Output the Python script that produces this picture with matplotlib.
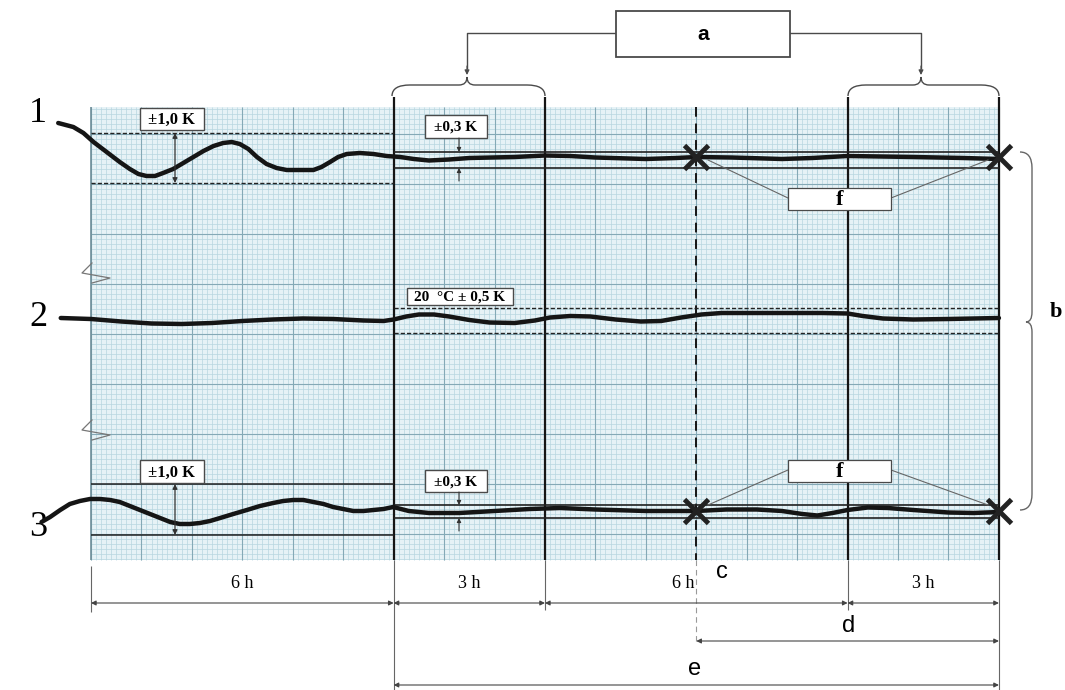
import matplotlib.pyplot as plt
import numpy as np
from matplotlib.patches import Rectangle, PathPatch
from matplotlib.path import Path

# test phases (hours)
phase_hours = [6, 3, 6, 3]
phase_labels = ["6 h", "3 h", "6 h", "3 h"]
phase_edges = np.concatenate([[0], np.cumsum(phase_hours)])  # 0, 6, 9, 15, 18
check_start = 12  # c

# recorder traces: time in h, pen position in chart units (0 = top of sheet)
curve1_t = [-0.65, -0.35, -0.15, 0.05, 0.31, 0.57, 0.77, 0.94, 1.10, 1.27, 1.43, 1.63,
            1.83, 2.03, 2.23, 2.43, 2.62, 2.79, 2.95, 3.12, 3.29, 3.48, 3.68, 3.88,
            4.14, 4.41, 4.57, 4.74, 4.90, 5.07, 5.33, 5.60, 5.86, 6.13, 6.4, 6.7,
            7.1, 7.5, 8.4, 9.0, 9.5, 10.0, 11.0, 11.6, 12.0, 12.7, 13.7, 14.3,
            15.0, 16.3, 17.3, 18.0]
curve1_y = [123, 127, 133, 142, 152, 162, 169, 174, 176, 176, 173, 169,
            163, 157, 151, 146, 143, 142, 144, 149, 157, 164, 168, 170,
            170, 170, 167, 162, 157, 154, 153, 154, 156, 157, 159, 160.5,
            159.5, 158, 157, 155.5, 156, 157.5, 159, 158, 157, 157.5, 159, 158,
            156, 157, 158, 159]

curve2_t = [-0.6, 0.0, 0.6, 1.2, 1.8, 2.4, 3.0, 3.6, 4.2, 4.8, 5.4, 5.8,
            6.0, 6.25, 6.5, 6.8, 7.1, 7.5, 7.9, 8.4, 8.8, 9.1, 9.5, 9.9,
            10.4, 10.9, 11.3, 11.7, 12.1, 12.5, 13.3, 14.5, 15.0, 15.3, 15.7, 16.3,
            17.0, 18.0]
curve2_y = [318, 319, 321.5, 323.5, 324, 323, 321, 319.5, 318.5, 319, 320.5, 321,
            319.5, 316.5, 314.5, 314.5, 316.5, 320, 322.5, 323, 320.5, 317.5, 316, 316.5,
            319.5, 321.5, 321, 317.5, 314.5, 313, 313, 313, 313.5, 316, 318.5, 319.5,
            319, 318]

curve3_t = [-0.98, -0.81, -0.61, -0.42, -0.22, -0.02, 0.18, 0.38, 0.57, 0.77, 0.97, 1.17,
            1.37, 1.57, 1.76, 1.96, 2.16, 2.36, 2.56, 2.82, 3.09, 3.35, 3.61, 3.81,
            4.01, 4.21, 4.41, 4.61, 4.80, 5.00, 5.20, 5.40, 5.60, 5.80, 5.99, 6.3,
            6.7, 7.3, 8.0, 8.7, 9.3, 10.0, 11.0, 12.0, 12.6, 13.2, 13.7, 14.1,
            14.4, 14.7, 15.0, 15.4, 15.8, 16.3, 17.0, 17.5, 18.0]
curve3_y = [522, 517, 510, 504, 501, 499, 499, 500, 502, 506, 510, 514,
            518, 522, 524, 524, 523, 521, 518, 514, 510, 506, 503, 501,
            500, 500, 502, 504, 507, 509, 511, 511, 510, 509, 507, 511,
            513, 513, 511, 509, 508, 509.5, 511, 511, 509.5, 509.5, 511, 514,
            515.5, 513, 510, 507.5, 508, 510, 512.5, 513, 512]

# tolerance bands (chart units)
band1_wide = [133, 183]    # ±1,0 K
band1_narrow = [152, 168]  # ±0,3 K
band2 = [308, 333]         # 20 °C ± 0,5 K
band3_wide = [484, 535]
band3_narrow = [505, 518]
marks_t = [12, 18]
marks1_y = [157, 157]
marks3_y = [511, 511]

# ---------------------------------------------------------------------------
PPH = 50.44   # pixels per hour on the sheet
X0 = 91       # pixel of t = 0


def px(x):
    """pixel column -> hours"""
    return (x - X0) / PPH


fig = plt.figure(figsize=(10.65, 6.9), dpi=100)
ax = fig.add_axes([0, 0, 1, 1])
ax.set_xlim(px(0), px(1065))
ax.set_ylim(690, 0)
ax.axis("off")

INK = "#151515"
GREY = "#4a4a4a"
SERIF = "Liberation Serif"
SANS = "Liberation Sans"

# chart paper
g_top, g_bot = 107, 560
ax.add_patch(Rectangle((0, g_top), 18, g_bot - g_top, fc="#e6f2f6", ec="none", zorder=0))
ax.vlines(np.arange(0, 18.001, 0.1), g_top, g_bot, color="#b8d6e0", lw=0.5, zorder=1)
ax.hlines(np.arange(109, g_bot, 5), 0, 18, color="#b8d6e0", lw=0.5, zorder=1)
ax.vlines(np.arange(0, 19), g_top, g_bot, color="#84a9b6", lw=0.8, zorder=1)
ax.hlines(np.arange(134, g_bot, 50), 0, 18, color="#84a9b6", lw=0.8, zorder=1)
ax.vlines(0, g_top, g_bot, color="#6f8f9a", lw=1.2, zorder=2)

# break marks on the left edge
for yb in (263, 420):
    ax.plot([px(92), px(82), px(110), px(92)], [yb, yb + 10, yb + 15, yb + 20],
            color="#777", lw=0.9, zorder=2)

# phase boundaries
ax.vlines(phase_edges[1:], 97, g_bot, color=INK, lw=1.6, zorder=3)
ax.vlines([phase_edges[1], phase_edges[-1]], g_bot, 690, color="#666", lw=0.8)
ax.vlines([phase_edges[2], phase_edges[3]], g_bot, 610, color="#666", lw=0.8)
ax.vlines(phase_edges[0], 566, 612, color="#666", lw=0.8)
ax.vlines(check_start, g_top, g_bot, color=INK, lw=1.4, linestyles=(0, (5, 3.5)), zorder=3)
ax.vlines(check_start, g_bot, 645, color="#999", lw=0.8, linestyles=(0, (5, 3.5)))

# tolerance bands
ax.hlines(band1_wide, 0, 6, color="#222", lw=1.0, linestyles=(0, (3, 1.5)), zorder=3)
ax.hlines(band1_narrow, 6, 18, color="#222", lw=1.2, zorder=3)
ax.hlines(band2, 6, 18, color="#222", lw=1.0, linestyles=(0, (3, 1.5)), zorder=3)
ax.hlines(band3_wide, 0, 6, color="#222", lw=1.1, zorder=3)
ax.hlines(band3_narrow, 6, 18, color="#222", lw=1.2, zorder=3)

# traces
for t, y in [(curve1_t, curve1_y), (curve2_t, curve2_y), (curve3_t, curve3_y)]:
    ax.plot(t, y, color=INK, lw=3.2, solid_capstyle="round", solid_joinstyle="round", zorder=5)
ax.plot(marks_t, marks1_y, "x", ms=17, mew=3.5, color="#222", zorder=6)
ax.plot(marks_t, marks3_y, "x", ms=17, mew=3.5, color="#222", zorder=6)

for lab, y in zip("123", [113, 318, 527]):
    ax.text(px(38), y, lab, fontsize=26, family=SERIF, ha="center", va="center")


def box(x0, y0, x1, y1, label, size, family, weight="bold", lw=1.0):
    ax.add_patch(Rectangle((px(x0), y0), px(x1) - px(x0), y1 - y0, fc="white",
                           ec=GREY, lw=lw, zorder=7))
    ax.text(px((x0 + x1) / 2), (y0 + y1) / 2 + 1, label, fontsize=size, family=family,
            weight=weight, ha="center", va="center", zorder=8)


def arrow(x0, y0, x1, y1, style="-|>", color=GREY, lw=0.8, ms=8):
    ax.annotate("", xy=(x1, y1), xytext=(x0, y0), zorder=8,
                arrowprops=dict(arrowstyle=style, color=color, lw=lw, mutation_scale=ms,
                                shrinkA=0, shrinkB=0))


# tolerance labels
box(140, 108, 204, 130, "±1,0 K", 12, SERIF)
box(140, 460, 204, 483, "±1,0 K", 12, SERIF)
box(425, 115, 487, 138, "±0,3 K", 11, SERIF)
box(425, 470, 487, 492, "±0,3 K", 11, SERIF)
box(407, 288, 513, 305, "20  °C ± 0,5 K", 11, SERIF)
arrow(px(175), band1_wide[0], px(175), band1_wide[1], "<|-|>", "#333", 0.9, 7)
arrow(px(175), band3_wide[0], px(175), band3_wide[1], "<|-|>", "#333", 0.9, 7)
for top, bot, yb in [(band1_narrow[0], band1_narrow[1], 138), (band3_narrow[0], band3_narrow[1], 492)]:
    arrow(px(459), yb, px(459), top, "-|>", "#333", 0.8, 6)
    arrow(px(459), bot + 13, px(459), bot, "-|>", "#333", 0.8, 6)

# f boxes with leaders to the crosses
for (y0, y1, ly, my) in [(188, 210, 198, 160), (460, 482, 470, 505)]:
    ax.plot([px(788), px(708)], [ly, my], color="#666", lw=0.8, zorder=6)
    ax.plot([px(891), px(988)], [ly, my], color="#666", lw=0.8, zorder=6)
    box(788, y0, 891, y1, "f", 16, SERIF, lw=0.9)

# a box and braces on the top
box(616, 11, 790, 57, "a", 15, SANS, lw=1.3)
ax.plot([px(616), px(467), px(467)], [33, 33, 68], color=GREY, lw=1.0)
ax.plot([px(790), px(921), px(921)], [33, 33, 68], color=GREY, lw=1.0)
arrow(px(467), 66, px(467), 75, "-|>", GREY, 0.8, 7)
arrow(px(921), 66, px(921), 75, "-|>", GREY, 0.8, 7)


def hbrace(xa, xb, xm, ytip=96, ybody=85, ykink=77):
    C, L, M = Path.CURVE3, Path.LINETO, Path.MOVETO
    v = [(xa, ytip), (xa, ybody), (xa + 18, ybody), (xm - 8, ybody), (xm, ybody), (xm, ykink),
         (xm, ybody), (xm + 8, ybody), (xb - 18, ybody), (xb, ybody), (xb, ytip)]
    codes = [M, C, C, L, C, C, C, C, L, C, C]
    v = [(px(x), y) for x, y in v]
    ax.add_patch(PathPatch(Path(v, codes), fc="none", ec=GREY, lw=1.0))


hbrace(392, 545, 467)
hbrace(848, 999, 921)

# b brace
C, L, M = Path.CURVE3, Path.LINETO, Path.MOVETO
bv = [(1020, 152), (1032, 152), (1032, 168), (1032, 312), (1032, 322), (1026, 322),
      (1032, 322), (1032, 332), (1032, 494), (1032, 510), (1020, 510)]
bcodes = [M, C, C, L, C, C, C, C, L, C, C]
ax.add_patch(PathPatch(Path([(px(x), y) for x, y in bv], bcodes), fc="none", ec="#666", lw=1.0))
ax.text(px(1056), 312, "b", fontsize=16, family=SERIF, weight="bold", ha="center", va="center")

# dimension lines
for i, lab in enumerate(phase_labels):
    a, b = phase_edges[i], phase_edges[i + 1]
    arrow(a, 603, b, 603, "<|-|>", "#444", 0.8, 7)
    xm = (a + b) / 2 - (0.25 if i == 2 else 0)
    ax.text(xm, 584, lab, fontsize=13, family=SERIF, ha="center", va="center")
ax.text(px(722), 572, "c", fontsize=17, family=SANS, ha="center", va="center")
arrow(check_start, 641, phase_edges[-1], 641, "<|-|>", "#444", 0.8, 7)
ax.text(px(849), 626, "d", fontsize=17, family=SANS, ha="center", va="center")
arrow(phase_edges[1], 685, phase_edges[-1], 685, "<|-|>", "#444", 0.8, 7)
ax.text(px(695), 669, "e", fontsize=17, family=SANS, ha="center", va="center")

fig.savefig("out.png", dpi=100)
